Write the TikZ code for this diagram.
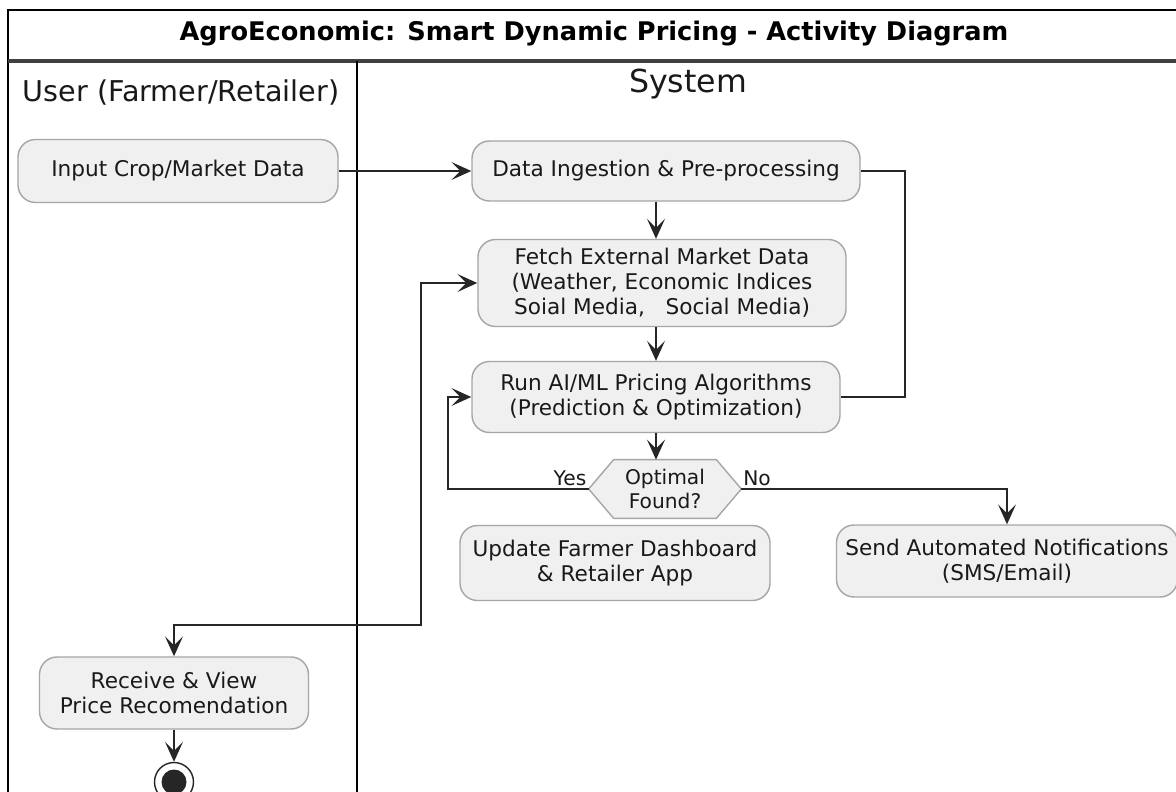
\documentclass[tikz,border=0pt]{standalone}
\usepackage{fontspec}
\setmainfont{DejaVu Sans}
\usetikzlibrary{arrows.meta}

\tikzset{
  act/.style={draw=gray!70, fill=gray!12, rounded corners=3.5mm, align=center,
    line width=0.8pt, text=black!90, font=\fontsize{12.3}{14.2}\selectfont},
  decision/.style={minimum width=30.4mm, minimum height=11.6mm, inner sep=0pt, align=center,
    text=black!90, font=\fontsize{11.5}{13.5}\selectfont},
  hexa/.style={draw=gray!70, fill=gray!12, line width=0.8pt},
  flow/.style={->, line width=1.1pt, draw=black!85},
  plain/.style={line width=1.1pt, draw=black!85},
  lbl/.style={font=\fontsize{11.5}{13}\selectfont, text=black!90},
}

\begin{document}
\begin{tikzpicture}[x=0.2mm, y=-0.2mm, >={Stealth[length=4mm,width=3.6mm,inset=1.8mm]}]
  \useasboundingbox (0,0) rectangle (1176,792);
  \fill[white] (0,0) rectangle (1176,792);

  % frame and swimlanes
  \draw[line width=1.2pt] (8,800) -- (8,10) -- (1185,10);
  \draw[line width=2pt, black!75] (8,61) -- (1185,61);
  \draw[line width=1.4pt] (357,61) -- (357,800);
  \node[font=\bfseries\fontsize{14.6}{16}\selectfont] (title) at (594,34) {AgroEconomic: Smart Dynamic Pricing - Activity Diagram};
  \node[font=\fontsize{16.3}{18}\selectfont, text=black!90] (userlane) at (181,93) {User (Farmer/Retailer)};
  \node[font=\fontsize{18}{20}\selectfont, text=black!90] (syslane) at (688,84) {System};

  % activities
  \node[act, minimum width=64mm, minimum height=12.6mm] (input) at (178,171) {Input Crop/Market Data};
  \node[act, minimum width=77.6mm, minimum height=12mm] (ingest) at (666,171) {Data Ingestion \& Pre-processing};
  \node[act, minimum width=73.6mm, minimum height=17.4mm] (fetch) at (662,283)
    {Fetch External Market Data\\(Weather, Economic Indices\\Soial Media,\ \ \ Social Media)};
  \node[act, minimum width=73.6mm, minimum height=14.2mm] (run) at (656,397)
    {Run AI/ML Pricing Algorithms\\(Prediction \& Optimization)};
  \node[decision] (opt) at (665,489) {};
  \filldraw[hexa] (opt.west) -- ([xshift=5mm]opt.north west) -- ([xshift=-5mm]opt.north east)
    -- (opt.east) -- ([xshift=-5mm]opt.south east) -- ([xshift=5mm]opt.south west) -- cycle;
  \node[decision] at (opt) {Optimal\\Found?};
  \node[act, minimum width=62mm, minimum height=15mm] (dash) at (615,563) {Update Farmer Dashboard\\\& Retailer App};
  \node[act, minimum width=68.2mm, minimum height=14.4mm] (notify) at (1007,561) {Send Automated Notifications\\(SMS/Email)};
  \node[act, minimum width=53.8mm, minimum height=14.4mm] (receive) at (174,693) {Receive \& View\\Price Recomendation};
  \node[circle, draw=black!85, line width=0.8pt, minimum size=7.8mm, inner sep=0pt] (stop) at (174,782) {};
  \fill[black!85] (stop) circle (2.5mm);

  \node[lbl] (yes) at (570,478) {Yes};
  \node[lbl] (no) at (757,478) {No};

  % bend points
  \coordinate (loopR) at (905,171);
  \coordinate (yesX) at (448,489);
  \coordinate (backX) at (421,625);

  % flows
  \draw[flow] (input) -- (ingest);
  \draw[plain] (ingest.east) -- (loopR) |- (run.east);
  \draw[flow] (ingest.south -| run) -- (fetch.north -| run);
  \draw[flow] (fetch.south -| run) -- (run.north);
  \draw[flow] (run.south) -- (run.south |- opt.north);
  \draw[flow] (opt.west) -- (yesX) |- (run.west);
  \draw[flow] (opt.east) -| (notify.north);
  \draw[plain, <->] (fetch.west) -| (backX) -| (receive.north);
  \draw[flow] (receive) -- (stop);
\end{tikzpicture}
\end{document}
